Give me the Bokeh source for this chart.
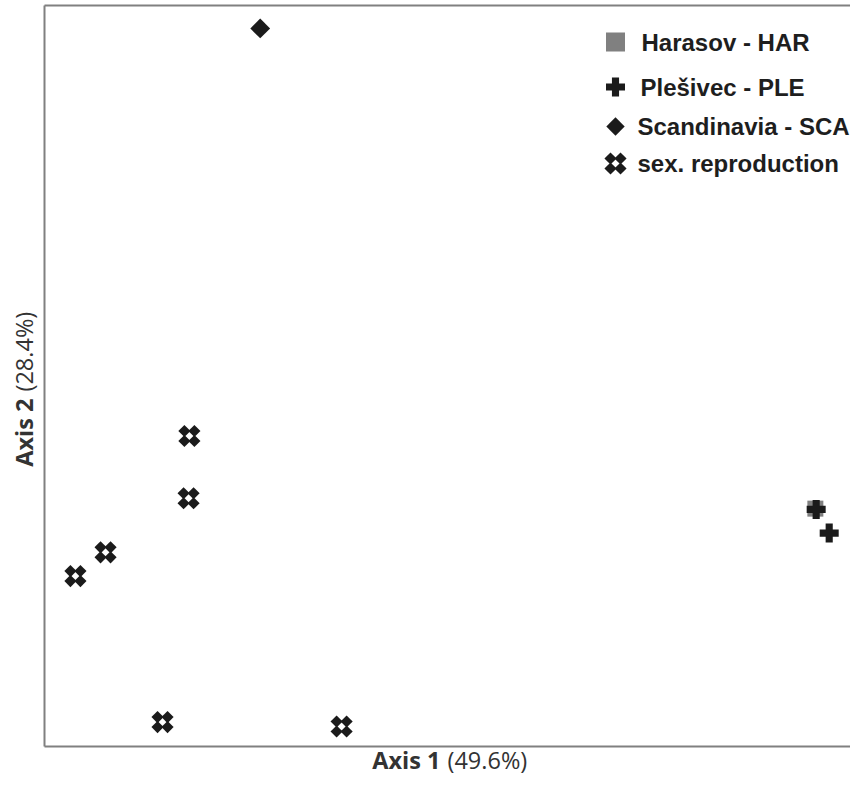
import math
from bokeh.plotting import figure
from bokeh.models import Range1d, Label
from bokeh.embed import file_html
from bokeh.resources import INLINE

# ---- data (PCoA scores) ----
sex_x = [-0.222, -0.223, -0.325, -0.362, -0.255, -0.035]
sex_y = [0.069, -0.015, -0.088, -0.120, -0.317, -0.323]
sca_x = [-0.135]
sca_y = [0.619]
har_x = [0.547]
har_y = [-0.029]
ple_x = [0.548, 0.564]
ple_y = [-0.030, -0.062]
legend_labels = ["Harasov - HAR", "Plešivec - PLE", "Scandinavia - SCA", "sex. reproduction"]
x_label = ["Axis 1", "(49.6%)"]
y_label = ["Axis 2", "(28.4%)"]

# ---- layout (canvas pixels, measured from top-left) ----
W, H = 850, 774
BOX_L, BOX_T, BOX_B, BOX_R = 44, 5, 746, 858   # plot box; right edge lies just outside canvas
X0, X1 = -0.40, 0.60       # data extent of the plot box
Y0, Y1 = -0.35, 0.65
SX = (X1 - X0) / (BOX_R - BOX_L)
SY = (Y1 - Y0) / (BOX_B - BOX_T)

BLACK = "#1b1b1b"
GREY = "#808080"

p = figure(width=W, height=H, output_backend="svg", toolbar_location=None,
           x_range=Range1d(X0 - BOX_L * SX, X0 + (W - BOX_L) * SX),
           y_range=Range1d(Y0 - (H - BOX_B) * SY, Y1 + BOX_T * SY),
           min_border_left=0, min_border_right=0, min_border_top=0, min_border_bottom=0)
p.axis.visible = False
p.grid.visible = False
p.outline_line_color = None
p.background_fill_color = "white"
p.border_fill_color = "white"

# plot box (left, top and bottom edges; right edge is off the picture)
p.segment(x0=[X0, X0, X0], y0=[Y0, Y0, Y1], x1=[X0, X1, X1], y1=[Y1, Y0, Y1],
          line_color=GREY, line_width=2)


def sex_symbol(xs, ys, size=8.6, off=5.0):
    for dx, dy in [(-off, -off), (off, -off), (-off, off), (off, off)]:
        p.scatter([x + dx * SX for x in xs], [y + dy * SY for y in ys],
                  marker="square", angle=math.pi / 4, size=size,
                  fill_color=BLACK, line_color=None)


# data points
sex_symbol(sex_x, sex_y)
p.scatter(sca_x, sca_y, marker="square", angle=math.pi / 4, size=14,
          fill_color=BLACK, line_color=None)
p.scatter(har_x, har_y, marker="square", size=16, fill_color=GREY, line_color=None)
p.scatter(ple_x, ple_y, marker="plus", size=19, fill_color=BLACK, line_color=None)


# legend (manual)
def fx(px):
    return X0 + (px - BOX_L) * SX


def fy(py):
    return Y0 + (BOX_B - py) * SY


leg_sym_x = 615
leg_rows_y = [41.5, 86.5, 126, 163]
leg_text_x = [641, 640, 637, 637]
p.scatter([fx(leg_sym_x)], [fy(leg_rows_y[0])], marker="square", size=19,
          fill_color=GREY, line_color=None)
p.scatter([fx(leg_sym_x)], [fy(leg_rows_y[1])], marker="plus", size=19,
          fill_color=BLACK, line_color=None)
p.scatter([fx(leg_sym_x)], [fy(leg_rows_y[2])], marker="square", angle=math.pi / 4, size=13,
          fill_color=BLACK, line_color=None)
sex_symbol([fx(leg_sym_x)], [fy(leg_rows_y[3])])

for lab, tx, ty in zip(legend_labels, leg_text_x, leg_rows_y):
    p.add_layout(Label(x=tx, y=H - ty, x_units="screen", y_units="screen",
                       text=lab, text_font="Liberation Sans", text_font_style="bold",
                       text_font_size="24px", text_color="#1e1e1e", text_baseline="middle",
                       text_align="left"))

# axis labels (bold part + regular part)
AX_FONT = "Open Sans"
AX_COLOR = "#333333"
AX_SIZE = "23.5px"
XL_MID = 759
p.add_layout(Label(x=440, y=H - XL_MID, x_units="screen", y_units="screen",
                   text=x_label[0], text_font=AX_FONT, text_font_style="bold",
                   text_font_size=AX_SIZE, text_color=AX_COLOR,
                   text_align="right", text_baseline="middle"))
p.add_layout(Label(x=447, y=H - XL_MID, x_units="screen", y_units="screen",
                   text=x_label[1], text_font=AX_FONT, text_font_style="normal",
                   text_font_size=AX_SIZE, text_color=AX_COLOR,
                   text_align="left", text_baseline="middle"))
YL_MID = 23
p.add_layout(Label(x=YL_MID, y=H - 398, x_units="screen", y_units="screen",
                   angle=math.pi / 2,
                   text=y_label[0], text_font=AX_FONT, text_font_style="bold",
                   text_font_size=AX_SIZE, text_color=AX_COLOR,
                   text_align="right", text_baseline="middle"))
p.add_layout(Label(x=YL_MID, y=H - 391, x_units="screen", y_units="screen",
                   angle=math.pi / 2,
                   text=y_label[1], text_font=AX_FONT, text_font_style="normal",
                   text_font_size=AX_SIZE, text_color=AX_COLOR,
                   text_align="left", text_baseline="middle"))

open("out.html", "w").write(file_html(p, INLINE))
